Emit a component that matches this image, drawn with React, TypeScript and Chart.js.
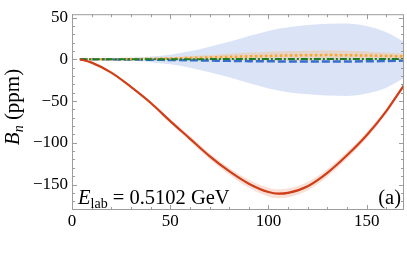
import React, { useEffect, useRef } from 'react';
import { Chart, registerables } from 'chart.js';

Chart.register(...registerables);

// Scattering angle (deg)
const angles = [4, 10, 20, 30, 40, 50, 60, 70, 80, 90, 100, 105, 110, 120, 130, 140, 150, 160, 169];
// Red solid curve and its uncertainty
const redLine = [0, -4, -16, -33, -52, -74, -95, -116, -134, -149, -159, -161, -160, -152, -136, -115, -91, -62, -31];
const redErr = [0, 0.3, 0.8, 1.3, 1.8, 2.4, 3, 3.6, 4.2, 4.8, 5.2, 5.3, 5.3, 5.1, 4.7, 4.2, 3.6, 2.9, 2.2];
// Blue band (upper / lower) and blue dashed line
const blueUpper = [0, 0.3, 0.8, 1.8, 3.2, 5.5, 9.5, 15, 21, 28, 34, 36.5, 38.5, 41, 42.5, 43, 40, 32.5, 21];
const blueLower = [0, -0.3, -0.8, -1.8, -3.4, -6, -10, -15.5, -21.5, -28.5, -35, -37.5, -39.5, -42, -43.5, -44, -41, -34, -22.5];
const blueLine = [0, -0.05, -0.1, -0.3, -0.5, -0.8, -1.1, -1.5, -1.9, -2.2, -2.4, -2.5, -2.6, -2.7, -2.7, -2.6, -2.4, -2, -1.6];
// Orange band (upper / lower) and orange dotted line
const orangeUpper = [0, 0.15, 0.4, 0.8, 1.6, 2.5, 3.8, 5.2, 6.7, 8, 9, 9.5, 9.9, 10.3, 10.5, 10.2, 9.2, 8, 6.5];
const orangeLower = [0, -0.05, -0.2, -0.3, -0.6, -0.9, -1.2, -1.5, -1.8, -2, -2.1, -2.1, -2.1, -2, -1.8, -1.6, -1.3, -1, -0.6];
const orangeLine = [0, 0.05, 0.1, 0.3, 0.6, 1, 1.6, 2.2, 2.9, 3.5, 4, 4.3, 4.5, 4.8, 5, 4.9, 4.5, 4, 3.5];
// Green dash-dot line
const greenLine = [0, 0, 0.05, 0.1, 0.1, 0.1, 0.15, 0.2, 0.25, 0.3, 0.3, 0.3, 0.35, 0.4, 0.4, 0.4, 0.35, 0.3, 0.2];

// Axes
const xMajorTicks = [0, 50, 100, 150];
const xMinorTicks = [10, 20, 30, 40, 60, 70, 80, 90, 110, 120, 130, 140, 160];
const yMajorTicks = [-150, -100, -50, 0, 50];
const yMinorTicks = [-170, -160, -140, -130, -120, -110, -90, -80, -70, -60, -40, -30, -20, -10, 10, 20, 30, 40];

const SERIF = '"Liberation Serif", "DejaVu Serif", serif';

const pts = (ys: number[]) => angles.map((a, i) => ({ x: a, y: ys[i] }));

const decorPlugin = {
  id: 'decor',
  afterDraw(chart: any) {
    const { ctx, chartArea: ca, scales } = chart;
    const xs = scales.x;
    const ys = scales.y;
    ctx.save();
    ctx.strokeStyle = '#9c9c9c';
    ctx.lineWidth = 1;
    ctx.strokeRect(ca.left + 0.5, ca.top + 0.5, ca.right - ca.left - 1, ca.bottom - ca.top - 1);
    const tick = (vals: number[], len: number) => {
      ctx.beginPath();
      for (const v of vals) {
        const px = Math.round(xs.getPixelForValue(v)) + 0.5;
        ctx.moveTo(px, ca.bottom);
        ctx.lineTo(px, ca.bottom - len);
        ctx.moveTo(px, ca.top);
        ctx.lineTo(px, ca.top + len);
      }
      ctx.stroke();
    };
    const ytick = (vals: number[], len: number) => {
      ctx.beginPath();
      for (const v of vals) {
        const py = Math.round(ys.getPixelForValue(v)) + 0.5;
        ctx.moveTo(ca.left, py);
        ctx.lineTo(ca.left + len, py);
        ctx.moveTo(ca.right, py);
        ctx.lineTo(ca.right - len, py);
      }
      ctx.stroke();
    };
    tick(xMajorTicks, 5);
    tick(xMinorTicks, 3);
    ytick(yMajorTicks, 5);
    ytick(yMinorTicks, 3);

    // Annotation E_lab
    ctx.fillStyle = '#000';
    ctx.textBaseline = 'alphabetic';
    ctx.textAlign = 'left';
    let x = 78;
    const base = 204;
    ctx.font = `italic 20.5px ${SERIF}`;
    ctx.fillText('E', x, base);
    x += ctx.measureText('E').width;
    ctx.font = `14px ${SERIF}`;
    ctx.fillText('lab', x, base + 4);
    x += ctx.measureText('lab').width;
    ctx.font = `20.5px ${SERIF}`;
    ctx.fillText(' = 0.5102 GeV', x, base);

    ctx.textAlign = 'right';
    ctx.fillText('(a)', 401, base);

    // Y axis title
    ctx.translate(19, 107);
    ctx.rotate(-Math.PI / 2);
    ctx.textAlign = 'left';
    ctx.font = `italic 21px ${SERIF}`;
    const wB = ctx.measureText('B').width;
    ctx.font = `italic 14px ${SERIF}`;
    const wn = ctx.measureText('n').width;
    ctx.font = `21px ${SERIF}`;
    const wr = ctx.measureText(' (ppm)').width;
    let tx = -(wB + wn + wr) / 2;
    ctx.font = `italic 21px ${SERIF}`;
    ctx.fillText('B', tx, 0);
    tx += wB;
    ctx.font = `italic 14px ${SERIF}`;
    ctx.fillText('n', tx, 4);
    tx += wn;
    ctx.font = `21px ${SERIF}`;
    ctx.fillText(' (ppm)', tx, 0);
    ctx.restore();
  },
};

export default function App() {
  const ref = useRef<HTMLCanvasElement>(null);
  useEffect(() => {
    const canvas = ref.current!;
    const line = (data: number[], color: string, width: number, dash: number[], order: number) => ({
      data: pts(data),
      borderColor: color,
      borderWidth: width,
      borderDash: dash,
      pointRadius: 0,
      fill: false,
      cubicInterpolationMode: 'monotone',
      order,
    });
    const band = (data: number[], color: string, fill: any, order: number) => ({
      data: pts(data),
      borderWidth: 0,
      borderColor: 'rgba(0,0,0,0)',
      backgroundColor: color,
      pointRadius: 0,
      fill,
      cubicInterpolationMode: 'monotone',
      order,
    });
    const redLow = redLine.map((v, i) => v - redErr[i]);
    const redHigh = redLine.map((v, i) => v + redErr[i]);
    const chart = new Chart(canvas, {
      type: 'line',
      data: {
        datasets: [
          band(blueLower, 'rgba(0,0,0,0)', false, 100),
          band(blueUpper, 'rgba(190,206,240,0.55)', '-1', 100),
          band(orangeLower, 'rgba(0,0,0,0)', false, 90),
          band(orangeUpper, 'rgba(240,190,140,0.42)', '-1', 90),
          band(redLow, 'rgba(0,0,0,0)', false, 80),
          band(redHigh, 'rgba(236,150,120,0.3)', '-1', 80),
          line(blueLine, 'rgb(55,110,205)', 2.5, [8, 3], 4),
          line(orangeLine, 'rgb(250,165,40)', 2.5, [2.5, 2.5], 3),
          line(greenLine, 'rgb(30,125,35)', 2, [7, 2, 2, 2], 2),
          line(redLine, 'rgb(208,62,24)', 2.2, [], 1),
        ] as any,
      },
      options: {
        responsive: false,
        animation: false,
        devicePixelRatio: 1,
        layout: { padding: { top: 4, right: 3, left: 0, bottom: 0 } },
        plugins: { legend: { display: false }, tooltip: { enabled: false } },
        scales: {
          x: {
            type: 'linear',
            min: 0,
            max: 169,
            grid: { display: false, drawTicks: false },
            border: { display: false },
            ticks: { font: { family: SERIF, size: 17 }, color: '#000', padding: 1, autoSkip: false, maxRotation: 0 },
            afterBuildTicks: (s: any) => { s.ticks = xMajorTicks.map((v) => ({ value: v })); },
            afterFit: (s: any) => { s.height = 54; },
          },
          y: {
            type: 'linear',
            min: -180.5,
            max: 54,
            grid: { display: false, drawTicks: false },
            border: { display: false },
            ticks: {
              font: { family: SERIF, size: 17 },
              color: '#000',
              padding: 4,
              autoSkip: false,
              callback: (v: any) => (v < 0 ? '\u2212' + Math.abs(v) : String(v)),
            },
            afterBuildTicks: (s: any) => { s.ticks = yMajorTicks.map((v) => ({ value: v })); },
            afterFit: (s: any) => { s.width = 72; },
          },
        },
      } as any,
      plugins: [decorPlugin],
    });
    return () => chart.destroy();
  }, []);
  return (
    <div style={{ position: 'fixed', left: 0, top: 0, width: 407, height: 264, background: '#fff' }}>
      <canvas ref={ref} width={407} height={264} style={{ display: 'block' }} />
    </div>
  );
}
